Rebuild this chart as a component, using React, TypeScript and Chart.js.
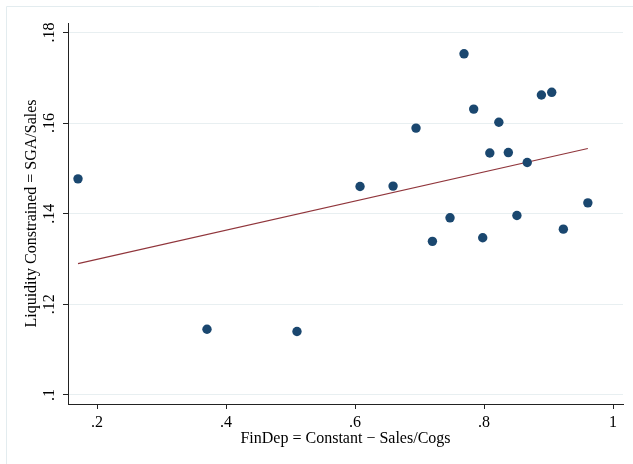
import React, { useEffect, useRef } from "react";
import { Chart, registerables } from "chart.js";

Chart.register(...registerables);

const finDep = [0.1705, 0.3705, 0.51, 0.6078, 0.659, 0.6946, 0.72, 0.7473, 0.769, 0.784, 0.798, 0.809, 0.823, 0.8377, 0.851, 0.867, 0.889, 0.905, 0.923, 0.961];
const sgaSales = [0.1477, 0.1145, 0.114, 0.146, 0.1461, 0.1589, 0.1339, 0.1391, 0.1753, 0.1631, 0.1347, 0.1534, 0.1602, 0.1535, 0.1396, 0.1513, 0.1662, 0.1668, 0.1366, 0.1424];
const fitX = [0.1705, 0.961];
const fitY = [0.129, 0.1544];
const xTicks = [0.2, 0.4, 0.6, 0.8, 1];
const xTickLabels = [".2", ".4", ".6", ".8", "1"];
const yTicks = [0.1, 0.12, 0.14, 0.16, 0.18];
const yTickLabels = [".1", ".12", ".14", ".16", ".18"];
const xTitle = "FinDep = Constant \u2212 Sales/Cogs";
const yTitle = "Liquidity Constrained = SGA/Sales";

const FONT = "'Liberation Serif', 'Times New Roman', serif";

const framePlugin = {
  id: "frame",
  beforeDraw(chart: any) {
    const ctx = chart.ctx;
    ctx.save();
    ctx.strokeStyle = "#e3ecef";
    ctx.lineWidth = 1;
    ctx.beginPath();
    ctx.moveTo(6.5, 464);
    ctx.lineTo(6.5, 6.5);
    ctx.lineTo(633, 6.5);
    ctx.stroke();
    ctx.restore();
  },
};

const yLabelPlugin = {
  id: "yLabels",
  afterDraw(chart: any) {
    const scale = chart.scales.y;
    const ctx = chart.ctx;
    ctx.save();
    ctx.fillStyle = "#000";
    ctx.font = `16px ${FONT}`;
    ctx.textAlign = "center";
    ctx.textBaseline = "middle";
    scale.ticks.forEach((t: any, i: number) => {
      const y = scale.getPixelForValue(t.value);
      ctx.save();
      ctx.translate(50, y);
      ctx.rotate(-Math.PI / 2);
      ctx.fillText(yTickLabels[i], 0, 0);
      ctx.restore();
    });
    ctx.restore();
  },
};

export default function App() {
  const ref = useRef<HTMLCanvasElement>(null);
  useEffect(() => {
    if (!ref.current) return;
    const chart = new Chart(ref.current, {
      type: "scatter",
      data: {
        datasets: [
          {
            type: "scatter",
            data: finDep.map((x, i) => ({ x, y: sgaSales[i] })),
            backgroundColor: "#1a476f",
            borderWidth: 0,
            pointRadius: 4.7,
            order: 1,
          },
          {
            type: "line",
            data: fitX.map((x, i) => ({ x, y: fitY[i] })),
            borderColor: "#90353b",
            borderWidth: 1.2,
            pointRadius: 0,
            fill: false,
            order: 2,
          } as any,
        ],
      },
      plugins: [framePlugin, yLabelPlugin],
      options: {
        animation: false,
        responsive: false,
        devicePixelRatio: 1,
        layout: { padding: { left: 0, right: 10, top: 23, bottom: 0 } },
        plugins: { legend: { display: false }, tooltip: { enabled: false } },
        scales: {
          x: {
            type: "linear",
            min: 0.155,
            max: 1.0155,
            afterBuildTicks: (s: any) => {
              s.ticks = xTicks.map((v) => ({ value: v }));
            },
            afterFit: (s: any) => {
              s.height = 60;
            },
            ticks: {
              callback: (_v: any, i: number) => xTickLabels[i],
              font: { family: FONT, size: 16 },
              color: "#000",
              padding: 4,
              maxRotation: 0,
            },
            grid: {
              drawOnChartArea: false,
              drawTicks: true,
              tickLength: 5,
              tickColor: "#222",
            },
            border: { color: "#222", width: 1 },
            title: {
              display: true,
              text: xTitle,
              color: "#000",
              font: { family: FONT, size: 16 },
              padding: { top: 0, bottom: 16 },
            },
          },
          y: {
            type: "linear",
            min: 0.098,
            max: 0.1821,
            afterBuildTicks: (s: any) => {
              s.ticks = yTicks.map((v) => ({ value: v }));
            },
            afterFit: (s: any) => {
              s.width = 68;
            },
            ticks: { display: false },
            grid: {
              color: "#e8eff1",
              lineWidth: 1,
              drawTicks: true,
              tickLength: 5,
              tickColor: "#222",
            },
            border: { color: "#222", width: 1 },
            title: {
              display: true,
              text: yTitle,
              color: "#000",
              font: { family: FONT, size: 16 },
              padding: { top: 22, bottom: 0 },
            },
          },
        },
      },
    });
    return () => chart.destroy();
  }, []);
  return (
    <div style={{ position: "absolute", left: 0, top: 0, width: 633, height: 464, background: "#fff" }}>
      <canvas ref={ref} width={633} height={464} style={{ display: "block" }} />
    </div>
  );
}
